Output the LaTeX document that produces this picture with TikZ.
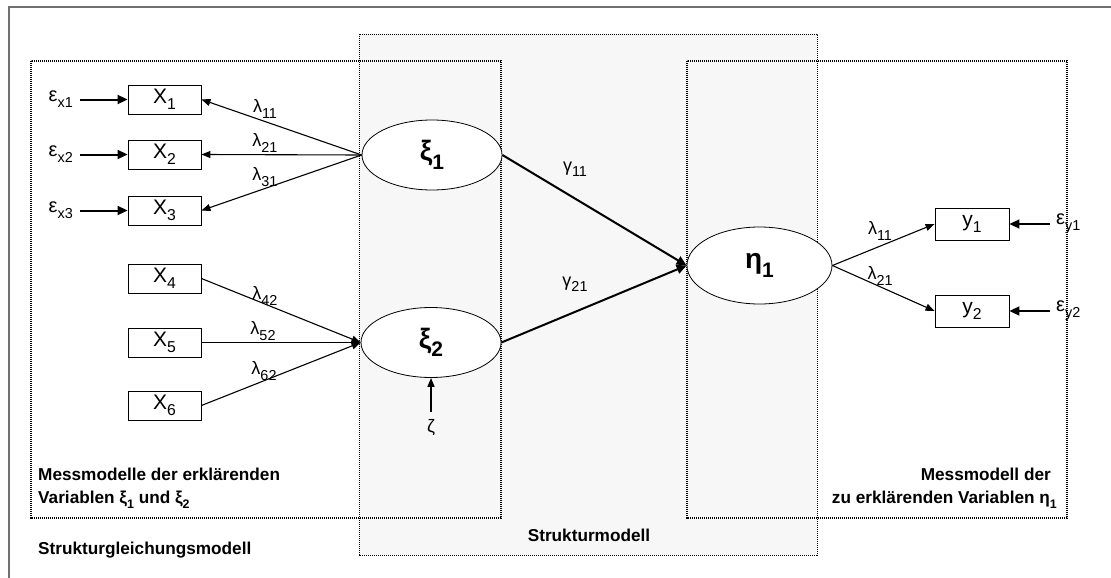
\documentclass[tikz,border=0pt]{standalone}
\usepackage{fontspec}
\setmainfont{Liberation Sans}
\usetikzlibrary{arrows.meta,shapes.geometric}
\newcommand{\lowsub}[2][0.72]{\raisebox{-0.3em}{\scalebox{#1}{#2}}}
\definecolor{strukfill}{HTML}{F7F7F7}
\definecolor{framegray}{HTML}{707070}
\begin{document}
\begin{tikzpicture}[x=1pt,y=-1pt,
  obs/.style={draw, line width=0.9pt, fill=white, minimum width=73pt, minimum height=29pt, inner sep=0pt, font=\fontsize{21}{21}\selectfont},
  lat/.style={ellipse, draw, line width=0.8pt, fill=white, minimum width=140pt, minimum height=70pt, inner sep=0pt, font=\fontsize{28}{28}\selectfont\bfseries},
  arr/.style={-{Triangle[length=9pt,width=7pt]}, line width=1.1pt},
  tarr/.style={-{Triangle[length=10pt,width=9pt]}, line width=2pt},
  lam/.style={inner sep=0pt, font=\fontsize{18}{18}\selectfont},
  eps/.style={inner sep=0pt, font=\fontsize{20}{20}\selectfont},
  lbl/.style={inner sep=0pt, font=\fontsize{17.2}{23}\selectfont\bfseries},
  regionA/.style={line width=1.6pt, dash pattern=on 1.2pt off 0.8pt},
  regionB/.style={line width=0.9pt, dash pattern=on 1.2pt off 0.8pt}
]
\useasboundingbox (0,0) rectangle (1111,578);
\fill[white] (0,0) rectangle (1111,578);
% outer frame (cropped)
\draw[framegray, line width=2pt] (9,578) -- (9,7) -- (1111,7);
% Strukturmodell region
\fill[strukfill] (359,34) rectangle (817,555);
\draw[regionB] (359,34) rectangle (817,555);
% measurement regions
\draw[regionA] (31,61) rectangle (501,518);
\draw[regionA] (687,61) rectangle (1067,518);

% observed x
\node[obs] (X1) at (164.5,99.5) {X\lowsub[0.75]{1}};
\node[obs] (X2) at (164.5,154.5) {X\lowsub[0.75]{2}};
\node[obs] (X3) at (164.5,210.5) {X\lowsub[0.75]{3}};
\node[obs] (X4) at (164.5,278.5) {X\lowsub[0.75]{4}};
\node[obs] (X5) at (164.5,342.5) {X\lowsub[0.75]{5}};
\node[obs] (X6) at (164.5,405.5) {X\lowsub[0.75]{6}};
% observed y
\node[obs, minimum width=74pt, minimum height=32pt] (Y1) at (972,224) {y\lowsub[0.75]{1}};
\node[obs, minimum width=74pt, minimum height=32pt] (Y2) at (972,311) {y\lowsub[0.75]{2}};
% latent
\node[lat] (xi1) at (432,155) {ξ\lowsub[0.75]{1}};
\node[lat] (xi2) at (431,342.5) {ξ\lowsub[0.75]{2}};
\node[lat, minimum width=145pt, minimum height=77pt] (eta1) at (759.5,265.5) {η\lowsub[0.75]{1}};

% error terms
\node[eps, anchor=east] (ex1) at (73,99.5) {ε\lowsub{x1}};
\node[eps, anchor=east] (ex2) at (73,154.5) {ε\lowsub{x2}};
\node[eps, anchor=east] (ex3) at (73,210.5) {ε\lowsub{x3}};
\node[eps, anchor=west] (ey1) at (1056,224) {ε\lowsub{y1}};
\node[eps, anchor=west] (ey2) at (1056,311) {ε\lowsub{y2}};
\node[eps, font=\fontsize{18}{18}\selectfont] (zeta) at (431,428) {ζ};

\draw[tarr, shorten <=7pt] (ex1.east) -- (X1.west);
\draw[tarr, shorten <=7pt] (ex2.east) -- (X2.west);
\draw[tarr, shorten <=7pt] (ex3.east) -- (X3.west);
\draw[tarr, shorten <=6pt] (ey1.west) -- (Y1.east);
\draw[tarr, shorten <=6pt] (ey2.west) -- (Y2.east);
\draw[arr, line width=1.6pt, shorten <=8pt] (zeta.north) -- (xi2.south);

% loadings
\draw[arr] (xi1.west) -- (X1.east);
\draw[arr] (xi1.west) -- (X2.east);
\draw[arr] (xi1.west) -- (X3.east);
\draw[arr] (X4.east) -- (xi2.west);
\draw[arr] (X5.east) -- (xi2.west);
\draw[arr] (X6.east) -- (xi2.west);
\draw[tarr] (xi1.east) -- (eta1.west);
\draw[tarr] (xi2.east) -- (eta1.west);
\draw[arr] (eta1.east) -- (Y1.west);
\draw[arr] (eta1.east) -- (Y2.west);

% coefficient labels
\node[lam] (l11) at (265,109) {λ\lowsub[0.8]{11}};
\node[lam] (l21) at (265,143) {λ\lowsub[0.8]{21}};
\node[lam] (l31) at (265,177) {λ\lowsub[0.8]{31}};
\node[lam] (l42) at (265,296) {λ\lowsub[0.8]{42}};
\node[lam] (l52) at (263,331) {λ\lowsub[0.8]{52}};
\node[lam] (l62) at (264,371) {λ\lowsub[0.8]{62}};
\node[lam] (g11) at (575,169) {γ\lowsub[0.8]{11}};
\node[lam] (g21) at (575,284) {γ\lowsub[0.8]{21}};
\node[lam] (ly11) at (880,231) {λ\lowsub[0.8]{11}};
\node[lam] (ly21) at (880,276) {λ\lowsub[0.8]{21}};

% region labels
\node[lbl, anchor=west, align=left] (mmx) at (38,488.5) {Messmodelle der erklärenden\\Variablen ξ\lowsub{1} und ξ\lowsub{2}};
\node[lbl, anchor=east, align=right] (mmy) at (1057,488.5) {Messmodell der\hspace*{6pt}\\zu erklärenden Variablen η\lowsub{1}};
\node[lbl] (sm) at (589,535) {Strukturmodell};
\node[lbl, anchor=west] (sgm) at (38,550) {Strukturgleichungsmodell};
\end{tikzpicture}
\end{document}
